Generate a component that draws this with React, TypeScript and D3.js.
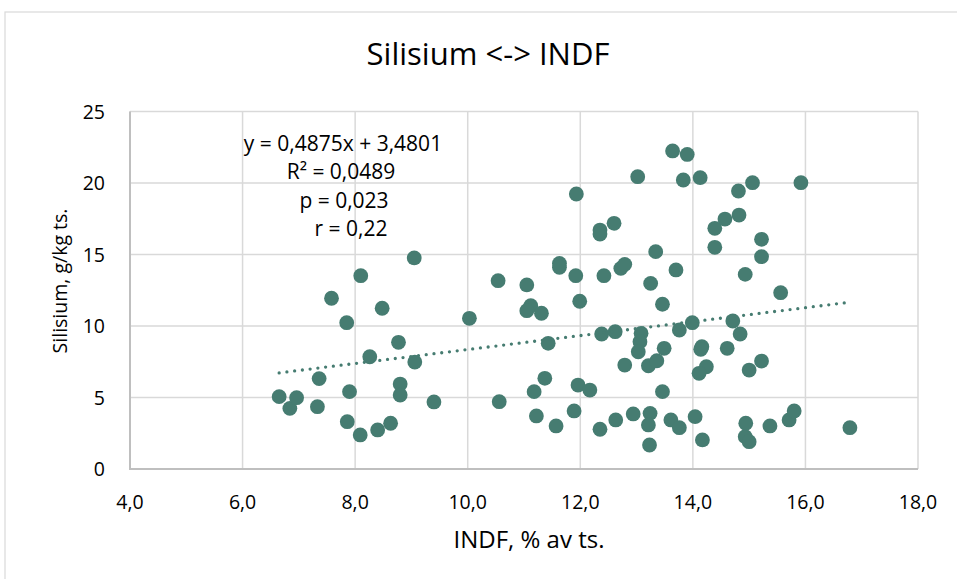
import React from "react";
import * as d3 from "d3";

const title = "Silisium <-> INDF";
const xTitle = "INDF, % av ts.";
const yTitle = "Silisium, g/kg ts.";
const eqLines = ["y = 0,4875x + 3,4801", "R² = 0,0489", "p = 0,023", "r = 0,22"];
const slope = 0.4875;
const intercept = 3.4801;
const xTicks = [4, 6, 8, 10, 12, 14, 16, 18];
const yTicks = [0, 5, 10, 15, 20, 25];

const indf = [
  6.65, 6.84, 6.96, 7.33, 7.36, 7.58, 7.85, 7.9, 7.86, 8.1, 8.09, 8.26, 8.4, 8.48, 8.63, 8.77, 8.8, 8.8,
  9.05, 9.06, 9.4,
  10.03, 10.54, 10.56,
  11.05, 11.12, 11.05, 11.31, 11.43, 11.37, 11.18, 11.22, 11.57, 11.63, 11.63,
  11.92, 11.93, 11.99, 11.96, 12.17, 11.89,
  12.35, 12.35, 12.6, 12.42, 12.38, 12.62, 12.35, 12.63, 12.72, 12.79, 12.79, 12.94,
  13.02, 13.08, 13.06, 13.03, 13.21, 13.36, 13.49, 13.24, 13.21, 13.23, 13.34, 13.25, 13.46, 13.46, 13.61, 13.76, 13.64, 13.9, 13.83, 13.7, 13.76, 13.99,
  14.13, 14.04, 14.17, 14.16, 14.14, 14.24, 14.11, 14.39, 14.39, 14.57, 14.81, 15.06, 14.82, 15.22, 15.22, 14.93, 15.56, 14.71, 14.84, 14.61, 15.22, 15.0, 15.92, 14.94, 14.93, 15.0, 15.37, 15.71, 15.8, 16.79,
];

const silisium = [
  5.06, 4.24, 4.99, 4.36, 6.32, 11.94, 10.23, 5.41, 3.31, 13.52, 2.38, 7.85, 2.73, 11.24, 3.2, 8.86, 5.94, 5.17,
  14.76, 7.48, 4.69,
  10.54, 13.17, 4.71,
  12.87, 11.42, 11.07, 10.89, 8.79, 6.34, 5.41, 3.71, 3.01, 14.38, 14.1,
  13.52, 19.23, 11.73, 5.87, 5.52, 4.06,
  16.71, 16.43, 17.18, 13.52, 9.44, 9.6, 2.78, 3.43, 14.03, 14.31, 7.27, 3.85,
  20.44, 9.49, 8.9, 8.2, 7.22, 7.57, 8.44, 3.89, 3.08, 1.68, 15.2, 12.98, 11.52, 5.41, 3.43, 2.89, 22.24, 22.0, 20.21, 13.92, 9.72, 10.23,
  20.37, 3.66, 2.03, 8.55, 8.37, 7.15, 6.69, 16.83, 15.5, 17.48, 19.44, 20.02, 17.76, 16.06, 14.85, 13.61, 12.33, 10.35, 9.44, 8.44, 7.55, 6.92, 20.02, 3.2, 2.26, 1.91, 3.01, 3.43, 4.06, 2.89,
];

const W = 957;
const H = 579;
const FONT = "'Open Sans', 'DejaVu Sans', sans-serif";
const GREEN = "#467c71";

export default function App() {
  const x = d3.scaleLinear().domain([4, 18]).range([130, 918]);
  const y = d3.scaleLinear().domain([0, 25]).range([469, 111.5]);
  const fmtX = (v: number) => d3.format(".1f")(v).replace(".", ",");
  const [xMin, xMax] = d3.extent(indf) as [number, number];
  const trend = d3.line<number>().x((d) => x(d)).y((d) => y(slope * d + intercept));
  const eqX = [343, 341, 344, 351];
  const eqY = [151, 179, 207.5, 236];

  return (
    <svg
      width={W}
      height={H}
      style={{ position: "absolute", left: 0, top: 0, background: "#fff" }}
      fontFamily={FONT}
    >
      <rect x={5} y={12} width={1000} height={700} fill="#fff" stroke="#d9d9d9" strokeWidth={1.2} />
      <text x={488} y={65} textAnchor="middle" fontSize={31} fill="#000">
        {title}
      </text>
      {/* gridlines */}
      {yTicks.map((t) => (
        <line key={"gy" + t} x1={130} x2={918} y1={y(t)} y2={y(t)} stroke="#d9d9d9" strokeWidth={1.5} />
      ))}
      {xTicks.map((t) => (
        <line key={"gx" + t} x1={x(t)} x2={x(t)} y1={y(25)} y2={y(0)} stroke="#d9d9d9" strokeWidth={1.5} />
      ))}
      {/* axes */}
      <line x1={130} x2={130} y1={y(25)} y2={y(0) + 1} stroke="#bfbfbf" strokeWidth={2} />
      <line x1={129} x2={918} y1={y(0)} y2={y(0)} stroke="#bfbfbf" strokeWidth={2} />
      {/* tick labels */}
      {yTicks.map((t) => (
        <text key={"ty" + t} x={105} y={y(t) + 7} textAnchor="end" fontSize={19.5} fill="#000">
          {t}
        </text>
      ))}
      {xTicks.map((t) => (
        <text key={"tx" + t} x={x(t)} y={509} textAnchor="middle" fontSize={19.5} fill="#000">
          {fmtX(t)}
        </text>
      ))}
      {/* axis titles */}
      <text x={529} y={548} textAnchor="middle" fontSize={24} fill="#000">
        {xTitle}
      </text>
      <text
        transform={`translate(67,281) rotate(-90)`}
        textAnchor="middle"
        fontSize={19.5}
        fill="#000"
      >
        {yTitle}
      </text>
      {/* points */}
      {indf.map((v, i) => (
        <circle key={"p" + i} cx={x(v)} cy={y(silisium[i])} r={7.4} fill={GREEN} />
      ))}
      {/* trendline */}
      <path
        d={trend([xMin, xMax]) || ""}
        fill="none"
        stroke={GREEN}
        strokeWidth={3.3}
        strokeDasharray="0 7.8"
        strokeLinecap="round"
      />
      {/* equation label */}
      {eqLines.map((s, i) => (
        <text key={"eq" + i} x={eqX[i]} y={eqY[i]} textAnchor="middle" fontSize={21} fill="#000">
          {s}
        </text>
      ))}
    </svg>
  );
}
